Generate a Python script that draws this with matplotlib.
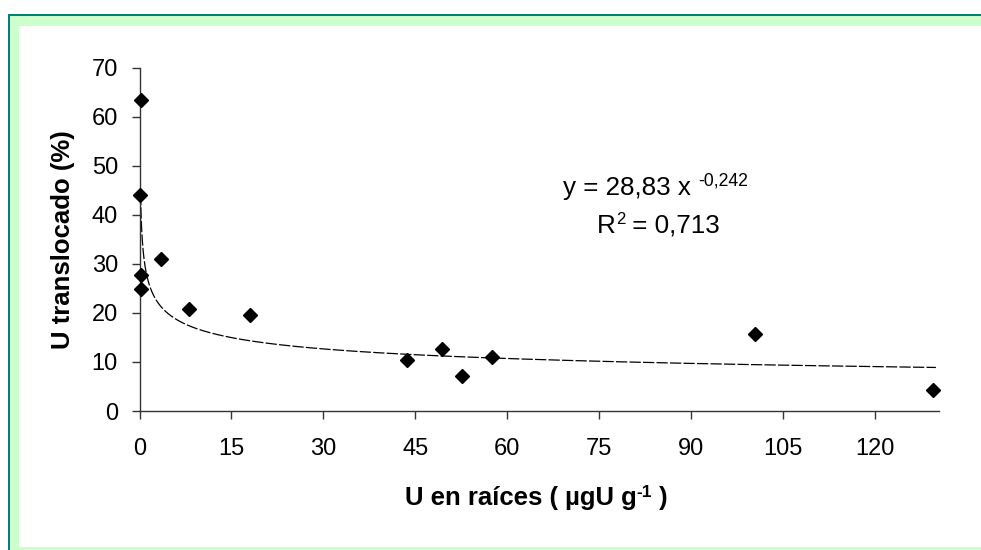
import numpy as np
import matplotlib
matplotlib.use("Agg")
import matplotlib.pyplot as plt
from matplotlib.patches import Rectangle

plt.rcParams["font.family"] = ["Liberation Sans", "DejaVu Sans"]

# data
u_raices = [0.3, 0.05, 0.3, 0.25, 3.5, 8.0, 18.0, 43.7, 49.4, 52.7, 57.5, 100.4, 129.6]
u_transl = [63.5, 44.0, 27.7, 24.8, 31.0, 20.8, 19.5, 10.5, 12.7, 7.2, 11.0, 15.8, 4.3]

# power trendline as printed on the chart
fit_a, fit_b = 28.83, -0.242
fit_x0, fit_x1 = 0.17, 130.0

x_ticks = [0, 15, 30, 45, 60, 75, 90, 105, 120]
y_ticks = [0, 10, 20, 30, 40, 50, 60, 70]

W, H = 981, 550
fig = plt.figure(figsize=(W / 100, H / 100), dpi=100)
renderer = fig.canvas.get_renderer()


def frame_rect(x0, top, color):
    # rectangle from pixel x0 / image-y top, running off the right and bottom edges
    fig.patches.append(Rectangle((x0 / W, -0.1), 1.2, (H - top) / H + 0.1,
                                 transform=fig.transFigure, facecolor=color,
                                 edgecolor="none", zorder=-10))


def text_runs(x, y, runs, **kw):
    """Write runs of (text, size, raise_px) side by side from pixel x, baseline y (image coords)."""
    for s, size, dy in runs:
        t = fig.text(x / W, 1 - (y - dy) / H, s, fontsize=size, ha="left",
                     va="baseline", **kw)
        x += t.get_window_extent(renderer).width


frame_rect(8, 14, "#008077")
frame_rect(10, 16, "#ccffcc")
fig.patches.append(Rectangle((19 / W, 3 / H), 1.2, (H - 26 - 3) / H,
                             transform=fig.transFigure, facecolor="white",
                             edgecolor="none", zorder=-9))

ax = fig.add_axes([139.5 / W, 139 / H, (939 - 139.5) / W, (482.3 - 139) / H])
ax.patch.set_alpha(0)

xs = np.geomspace(fit_x0, fit_x1, 400)
ax.plot(xs, fit_a * xs ** fit_b, color="black", lw=0.9, dashes=(9, 1.8))
ax.plot(u_raices, u_transl, linestyle="none", marker="D", ms=7.2,
        color="black", clip_on=False, zorder=3)

ax.set_xlim(0, 130.5)
ax.set_ylim(0, 70)
ax.set_xticks(x_ticks)
ax.set_yticks(y_ticks)
for s in ("top", "right"):
    ax.spines[s].set_visible(False)
for s in ("left", "bottom"):
    ax.spines[s].set_color("#333333")
    ax.spines[s].set_linewidth(1.0)
ax.tick_params(axis="both", direction="out", length=5.5, width=1.0,
               color="#333333", labelsize=17)
ax.tick_params(axis="y", pad=10)
ax.tick_params(axis="x", pad=14)

fig.text(63 / W, 1 - 240 / H, "U translocado (%)", rotation=90, fontsize=18.5,
         fontweight="bold", ha="center", va="center")
text_runs(405, 505, [("U en raíces ( µgU g", 18.5, 0), ("-1", 12.5, 8),
                     (" )", 18.5, 0)], fontweight="bold")

text_runs(563, 195, [("y = 28,83 x ", 18.7, 0), ("-0,242", 12.7, 9)])
text_runs(597, 233, [("R", 18.7, 0), ("2", 12, 9), (" = 0,713", 18.7, 0)])

fig.savefig("out.png", dpi=100)
